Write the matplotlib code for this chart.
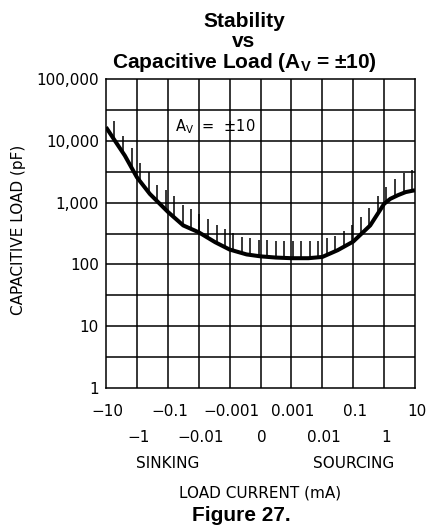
import numpy as np
import matplotlib
matplotlib.use("Agg")
import matplotlib.pyplot as plt
import matplotlib.transforms as mtransforms

plt.rcParams['font.family'] = ['DejaVu Sans']
plt.rcParams['mathtext.fontset'] = 'custom'
plt.rcParams['mathtext.rm'] = 'DejaVu Sans'
plt.rcParams['mathtext.bf'] = 'Liberation Sans:bold'

# x axis is a folded log scale: one tick label per grid column
x_labels = ["\u221210", "\u22121", "\u22120.1", "\u22120.01", "\u22120.001", "0",
            "0.001", "0.01", "0.1", "1", "10"]
y_ticks = [1, 10, 100, 1000, 10000, 100000]
y_labels = ["1", "10", "100", "1,000", "10,000", "100,000"]

# stability boundary (position along x tick index, capacitive load in pF)
curve_pos = [0.0, 0.29, 0.61, 1.0, 1.42, 2.0, 2.5, 3.0, 3.53, 4.0, 4.55,
             5.0, 5.5, 6.0, 6.55, 7.0, 7.5, 8.0, 8.55, 9.0, 9.2, 9.45, 9.7, 10.0]
curve_pf = [16600, 10000, 5750, 2570, 1380, 710, 427, 331, 229, 174, 145,
            135, 129, 126, 126, 132, 170, 234, 427, 955, 1150, 1320, 1480, 1585]

# hatch marks above the curve (unstable region), tops in pF
hatch_pos = [0.27, 0.55, 0.83, 1.10, 1.38, 1.65, 1.93, 2.20, 2.48, 2.75, 3.02, 3.30,
             3.58, 3.85, 4.12, 4.40, 4.67, 4.95, 5.22, 5.50, 5.77, 6.04, 6.31, 6.59,
             6.87, 7.14, 7.41, 7.69, 7.97, 8.25, 8.52, 8.80, 9.07, 9.35, 9.63, 9.90]
hatch_top = [20900, 12000, 7600, 4400, 3100, 1900, 1600, 1260, 930, 780, 650, 540,
             440, 370, 320, 275, 263, 250, 245, 240, 240, 240, 240, 240,
             240, 263, 290, 350, 430, 575, 810, 1260, 1820, 2400, 3000, 3400]

W, H = 428, 527
fig = plt.figure(figsize=(W / 100, H / 100), dpi=100)
ax = fig.add_axes([106 / W, 1 - 388 / H, 309 / W, 309 / H])

ax.set_yscale('log')
ax.set_xlim(0, 10)
ax.set_ylim(1, 100000)

# grid: every column, every half decade
for i in range(1, 10):
    ax.axvline(i, color='black', lw=1.1, zorder=1)
for e in np.arange(0.5, 5.0, 0.5):
    ax.axhline(10 ** e, color='black', lw=1.1, zorder=1)
for s in ax.spines.values():
    s.set_linewidth(1.1)

# hatches from the curve up
hb = 10 ** np.interp(hatch_pos, curve_pos, np.log10(curve_pf))
ax.vlines(hatch_pos, hb, hatch_top, color='black', lw=1.1, zorder=2)

ax.plot(curve_pos, curve_pf, color='black', lw=2.9, solid_joinstyle='round',
        solid_capstyle='butt', zorder=3)

ax.text(2.23, 10 ** 4.16, "A$_\\mathrm{V}$  =  \u00b110",
        fontsize=10.5, va='baseline', ha='left', zorder=4)

ax.set_yticks(y_ticks)
ax.set_yticklabels(y_labels, fontsize=11)
ax.yaxis.set_minor_locator(matplotlib.ticker.NullLocator())
ax.tick_params(axis='y', length=0, pad=5)
ax.set_xticks([])

tr = mtransforms.blended_transform_factory(ax.transData, fig.transFigure)
for i, lab in enumerate(x_labels):
    yy = 411 if i % 2 == 0 else 437.5
    ax.text(i + 0.05, 1 - yy / H, lab, transform=tr, ha='center', va='center',
            fontsize=11, clip_on=False)
ax.text(2, 1 - 464 / H, "SINKING", transform=tr, ha='center', va='center', fontsize=11)
ax.text(8, 1 - 464 / H, "SOURCING", transform=tr, ha='center', va='center', fontsize=11)
ax.text(5, 1 - 492.5 / H, "LOAD CURRENT (mA)", transform=tr, ha='center', va='center',
        fontsize=11)

fig.text(19 / W, 1 - 230 / H, "CAPACITIVE LOAD (pF)", rotation=90, ha='center',
         va='center', fontsize=11)

tfont = dict(family='Liberation Sans', weight='bold', fontsize=15, ha='center',
             va='baseline')
fig.text(244 / W, 1 - 26.7 / H, "Stability", **tfont)
fig.text(244 / W, 1 - 46.7 / H, "vs", **tfont)
fig.text(244 / W, 1 - 68.3 / H, "Capacitive Load (A$_\\mathbf{V}$ = \u00b110)", **tfont)
fig.text(241 / W, 1 - 521 / H, "Figure 27.", **tfont)

fig.savefig("out.png", dpi=100)
